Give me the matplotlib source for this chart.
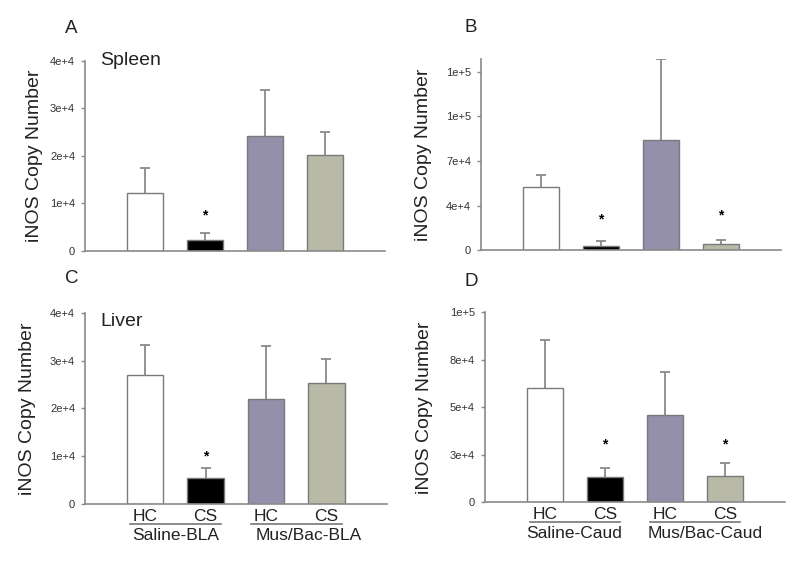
import matplotlib
matplotlib.use("Agg")
import matplotlib.pyplot as plt
import numpy as np

plt.rcParams["font.family"] = ["Liberation Sans", "DejaVu Sans"]

# ---- data ----
groups = ["HC", "CS", "HC", "CS"]
bar_colors = ["#ffffff", "#000000", "#948fab", "#b8b9a7"]

# A: spleen, saline-BLA / mus-bac-BLA
a_mean = [12150, 2300, 24300, 20300]
a_err = [5250, 1550, 9500, 4700]
a_star = [None, 7400, None, None]

# B: spleen, caudate
b_mean = [49800, 3100, 86500, 5000]
b_err = [9200, 4000, 63500, 3400]
b_star = [None, 24000, None, 27000]

# C: liver, BLA
c_mean = [27100, 5450, 21900, 25400]
c_err = [6200, 2000, 11250, 5000]
c_star = [None, 9900, None, None]

# D: liver, caudate
d_mean = [60000, 13500, 45800, 13800]
d_err = [25400, 4500, 22900, 6700]
d_star = [None, 30500, None, 30500]

ab_ticks = [0, 10000, 20000, 30000, 40000]
ab_labels = ["0", "1e+4", "2e+4", "3e+4", "4e+4"]
b_ticks = [0, 35000, 70000, 105000, 140000]
b_labels = ["0", "4e+4", "7e+4", "1e+5", "1e+5"]
d_ticks = [0, 25000, 50000, 75000, 100000]
d_labels = ["0", "3e+4", "5e+4", "8e+4", "1e+5"]

EDGE = "#7a7a7a"
SPINE = "#8a8a8a"
TXT = "#222222"

fig = plt.figure(figsize=(8.0, 5.61), dpi=100)


def panel(rect, mean, err, star, ylim, ticks, labels, ylab_x):
    ax = fig.add_axes(rect)
    x = np.arange(1, 5)
    ax.bar(x, mean, width=0.6, color=bar_colors, edgecolor=EDGE, linewidth=1.0, zorder=2)
    # upper error bars only, cap at the top
    tops = np.add(mean, err)
    ax.vlines(x, mean, tops, color=SPINE, lw=1.3, zorder=1)
    ax.plot(x, tops, ls="none", marker="_", ms=7, mew=1.3, color=SPINE, zorder=1)
    for xi, s in zip(x, star):
        if s is not None:
            ax.text(xi, s, "*", ha="center", va="center", fontsize=10,
                    fontweight="bold", color="black")
    ax.set_xlim(0, 5)
    ax.set_ylim(*ylim)
    ax.set_yticks(ticks)
    ax.set_yticklabels(labels)
    ax.set_xticks([])
    ax.tick_params(axis="y", length=3, width=1, color=SPINE, labelsize=8,
                   labelcolor="#333333", pad=4)
    for sp in ["top", "right"]:
        ax.spines[sp].set_visible(False)
    for sp in ["left", "bottom"]:
        ax.spines[sp].set_color(SPINE)
        ax.spines[sp].set_linewidth(1.2)
    ax.set_ylabel("iNOS Copy Number", fontsize=14, color=TXT)
    ax.yaxis.set_label_coords(ylab_x, 0.5)
    return ax


def group_labels(ax, names, name_left):
    tr = ax.get_xaxis_transform()
    for xi, g in zip(range(1, 5), groups):
        ax.text(xi, -0.089, g, transform=tr, ha="center", va="baseline",
                fontsize=12.5, color=TXT)
    for c in [1.5, 3.5]:
        ax.plot([c - 0.75, c + 0.75], [-0.106, -0.106], transform=tr,
                color="#777777", lw=1.2, clip_on=False)
    for xl, n in zip(name_left, names):
        ax.text(xl, -0.19, n, transform=tr, ha="left", va="baseline",
                fontsize=12.5, color=TXT)


axA = panel([0.106, 0.5526, 0.375, 0.3387], a_mean, a_err, a_star,
            (0, 40000), ab_ticks, ab_labels, -0.14)
axA.text(0.05, 1.0, "Spleen", transform=axA.transAxes, ha="left", va="center",
         fontsize=14, color=TXT)

axB = panel([0.601, 0.554, 0.375, 0.3405], b_mean, b_err, b_star,
            (0, 150000), b_ticks, b_labels, -0.163)

axC = panel([0.106, 0.1016, 0.3775, 0.3405], c_mean, c_err, c_star,
            (0, 40000), ab_ticks, ab_labels, -0.16)
axC.text(0.053, 0.958, "Liver", transform=axC.transAxes, ha="left", va="center",
         fontsize=14, color=TXT)
group_labels(axC, ["Saline-BLA", "Mus/Bac-BLA"], [0.78, 2.82])

axD = panel([0.606, 0.1046, 0.375, 0.3385], d_mean, d_err, d_star,
            (0, 100000), d_ticks, d_labels, -0.173)
group_labels(axD, ["Saline-Caud", "Mus/Bac-Caud"], [0.695, 2.72])

for lx, ly, s in [(0.089, 0.950, "A"), (0.589, 0.951, "B"),
                  (0.090, 0.503, "C"), (0.589, 0.499, "D")]:
    fig.text(lx, ly, s, ha="center", va="center", fontsize=13.5, color=TXT)

fig.savefig("out.png", dpi=100)
